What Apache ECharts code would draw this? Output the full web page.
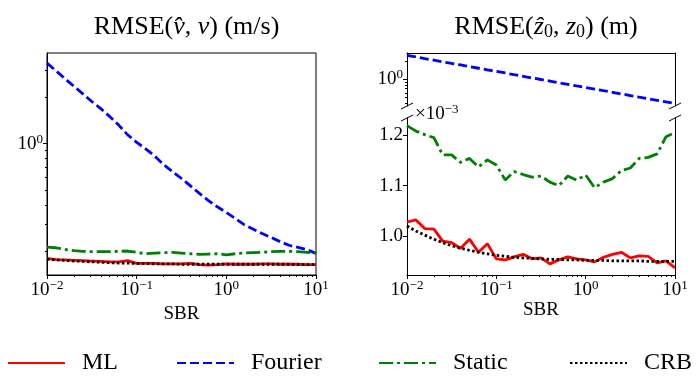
<!DOCTYPE html>
<html>
<head>
<meta charset="utf-8">
<script src="https://cdn.jsdelivr.net/npm/echarts@6/dist/echarts.min.js"></script>
<style>
html, body { margin: 0; padding: 0; background: #fff; }
#main { width: 696px; height: 377px; }
</style>
</head>
<body>
<div id="main"></div>
<script>
// SBR grid, 10 points per decade
var sbr = [0.01, 0.0126, 0.0158, 0.02, 0.0251, 0.0316, 0.0398, 0.0501, 0.0631, 0.0794,
           0.1, 0.126, 0.158, 0.2, 0.251, 0.316, 0.398, 0.501, 0.631, 0.794,
           1, 1.26, 1.58, 2, 2.51, 3.16, 3.98, 5.01, 6.31, 7.94, 10];

// RMSE(v) (m/s)
var vMl      = [0.179, 0.176, 0.175, 0.174, 0.173, 0.172, 0.171, 0.170, 0.170, 0.173,
                0.166, 0.166, 0.166, 0.165, 0.165, 0.165, 0.166, 0.163, 0.162, 0.163,
                0.165, 0.164, 0.164, 0.164, 0.165, 0.165, 0.164, 0.164, 0.164, 0.163, 0.163];
var vFourier = [3.34, 2.98, 2.65, 2.36, 2.11, 1.88, 1.69, 1.50, 1.32, 1.14,
                1.02, 0.925, 0.834, 0.730, 0.656, 0.593, 0.531, 0.474, 0.426, 0.388,
                0.356, 0.325, 0.297, 0.277, 0.260, 0.245, 0.230, 0.218, 0.211, 0.204, 0.193];
var vStatic  = [0.212, 0.210, 0.205, 0.201, 0.199, 0.198, 0.198, 0.198, 0.199, 0.200,
                0.196, 0.192, 0.194, 0.195, 0.196, 0.194, 0.192, 0.190, 0.191, 0.192,
                0.189, 0.192, 0.194, 0.195, 0.196, 0.198, 0.199, 0.199, 0.198, 0.196, 0.194];
var vCrb     = [0.177, 0.175, 0.174, 0.172, 0.171, 0.170, 0.169, 0.168, 0.167, 0.167,
                0.166, 0.166, 0.165, 0.165, 0.165, 0.164, 0.164, 0.164, 0.164, 0.164,
                0.164, 0.164, 0.164, 0.164, 0.164, 0.164, 0.164, 0.164, 0.163, 0.163, 0.163];

// RMSE(z0) (m); Fourier in the upper (log) part, the rest in units of 1e-3
var zFourier = [2.47, 2.33, 2.19, 2.06, 1.94, 1.82, 1.72, 1.61, 1.52, 1.43,
                1.35, 1.27, 1.19, 1.12, 1.05, 0.992, 0.933, 0.878, 0.827, 0.778,
                0.732, 0.689, 0.648, 0.610, 0.574, 0.540, 0.508, 0.478, 0.450, 0.423, 0.398];
var zMl      = [1.028, 1.032, 1.015, 1.014, 0.990, 0.987, 0.976, 0.994, 0.968, 0.985,
                0.955, 0.953, 0.959, 0.964, 0.955, 0.957, 0.945, 0.953, 0.959, 0.955,
                0.953, 0.949, 0.958, 0.964, 0.968, 0.957, 0.961, 0.960, 0.947, 0.951, 0.937];
var zStatic  = [1.219, 1.208, 1.201, 1.195, 1.161, 1.161, 1.146, 1.154, 1.137, 1.151,
                1.141, 1.111, 1.128, 1.122, 1.117, 1.119, 1.107, 1.100, 1.119, 1.111,
                1.121, 1.096, 1.107, 1.114, 1.130, 1.135, 1.154, 1.156, 1.163, 1.197, 1.205];
var zCrb     = [1.020, 1.010, 1.002, 0.994, 0.987, 0.981, 0.976, 0.972, 0.968, 0.965,
                0.962, 0.960, 0.958, 0.957, 0.956, 0.955, 0.954, 0.954, 0.953, 0.953,
                0.952, 0.952, 0.952, 0.951, 0.951, 0.951, 0.951, 0.950, 0.950, 0.950, 0.950];

// tick values
var xMajor = [0.01, 0.1, 1, 10];
var xMinor = [];
[0.01, 0.1, 1].forEach(function (d) {
    for (var m = 2; m <= 9; m++) xMinor.push(+(d * m).toPrecision(3));
});
var vMajor = [1];
var vMinor = [0.2, 0.3, 0.4, 0.5, 0.6, 0.7, 0.8, 0.9, 2, 3];
var zTopMajor = [1];
var zTopMinor = [0.4, 0.5, 0.6, 0.7, 0.8, 0.9, 2];
var zLowMajor = [1.0, 1.1, 1.2];

var names = ['ML', 'Fourier', 'Static', 'CRB'];

var FONT = 'Liberation Serif';
var G0 = { left: 47, top: 53, width: 269, height: 222 };
var G1 = { left: 407, top: 53, width: 268, height: 53 };
var G2 = { left: 407, top: 118, width: 268, height: 157 };

var pair = function (ys) { return sbr.map(function (x, i) { return [x, ys[i]]; }); };

var supRich = {
    b: { fontFamily: FONT, fontSize: 19, color: '#000' },
    s: { fontFamily: FONT, fontSize: 13, color: '#000', padding: [0, 0, 9, 0] }
};
function pow10Label(v) {
    var e = Math.round(Math.log10(v));
    return '{b|10}{s|' + (e < 0 ? '\u2212' + (-e) : e) + '}';
}

// main axis with ticks + labels
function mainAxis(type, grid, min, max, pos, ticks, fmt) {
    return {
        type: type, gridIndex: grid, min: min, max: max, position: pos,
        axisLine: { show: true, lineStyle: { color: '#000', width: 1 } },
        axisTick: { show: true, inside: false, length: 4, customValues: ticks, lineStyle: { color: '#000', width: 1 } },
        axisLabel: { show: true, customValues: ticks, formatter: fmt, rich: supRich, margin: 4,
                     fontFamily: FONT, fontSize: 19, color: '#000' },
        splitLine: { show: false },
        minorTick: { show: false }
    };
}
// twin axis carrying only the minor ticks
function minorAxis(type, grid, min, max, pos, ticks) {
    return {
        type: type, gridIndex: grid, min: min, max: max, position: pos,
        axisLine: { show: false },
        axisTick: { show: true, inside: false, length: 2, customValues: ticks, lineStyle: { color: '#000', width: 1 } },
        axisLabel: { show: false },
        splitLine: { show: false }
    };
}
// bare spine
function spine(type, grid, min, max, pos) {
    return {
        type: type, gridIndex: grid, min: min, max: max, position: pos,
        axisLine: { show: true, lineStyle: { color: '#000', width: 1 } },
        axisTick: { show: false }, axisLabel: { show: false }, splitLine: { show: false }
    };
}

var xLeft = mainAxis('log', 0, 0.01, 10, 'bottom', xMajor, pow10Label);
xLeft.name = 'SBR';
xLeft.nameLocation = 'middle';
xLeft.nameGap = 24;
xLeft.nameTextStyle = { fontFamily: FONT, fontSize: 19, color: '#000' };
var xRight = mainAxis('log', 2, 0.01, 10, 'bottom', xMajor, pow10Label);
xRight.name = 'SBR';
xRight.nameLocation = 'middle';
xRight.nameGap = 24;
xRight.nameTextStyle = { fontFamily: FONT, fontSize: 19, color: '#000' };

var yLow = mainAxis('value', 2, 0.923, 1.234, 'left', zLowMajor, function (v) { return v.toFixed(1); });
yLow.name = '{m|\u00d710}{s|\u22123}';
yLow.nameLocation = 'end';
yLow.nameGap = 4;
yLow.nameTextStyle = {
    align: 'left', verticalAlign: 'middle', padding: [0, 0, 0, 8],
    rich: {
        m: { fontFamily: FONT, fontSize: 19, color: '#000' },
        s: { fontFamily: FONT, fontSize: 13, color: '#000', padding: [0, 0, 9, 0] }
    }
};

var lineStyles = [
    { color: '#ff0000', width: 2.8, type: 'solid' },
    { color: '#0000ff', width: 2.8, type: [9, 4] },
    { color: '#008000', width: 2.8, type: [14, 4, 3, 4] },
    { color: '#000000', width: 2.8, type: [2.5, 2.5] }
];
function mkSeries(name, data, xi, yi) {
    var ls = lineStyles[names.indexOf(name)];
    return {
        name: name, type: 'line', xAxisIndex: xi, yAxisIndex: yi,
        data: pair(data), showSymbol: false, symbol: 'none',
        lineStyle: ls, itemStyle: { color: ls.color },
        animation: false, silent: true, clip: true
    };
}

var legendLefts = [7, 176, 378, 569];

var titleRich = {
    n: { fontFamily: FONT, fontSize: 26, fontWeight: 'normal', color: '#000' },
    i: { fontFamily: FONT, fontSize: 26, fontWeight: 'normal', fontStyle: 'italic', color: '#000' },
    d: { fontFamily: FONT, fontSize: 18, fontWeight: 'normal', color: '#000', padding: [9, 0, 0, 0] }
};

function brk(x, y) {
    return { type: 'line', shape: { x1: x - 6, y1: y + 3, x2: x + 6, y2: y - 3 },
             style: { stroke: '#000', lineWidth: 1 }, silent: true };
}
var g1b = G1.top + G1.height, g2t = G2.top, gl = G1.left, gr = G1.left + G1.width;

var option = {
    animation: false,
    backgroundColor: '#fff',
    title: [
        { text: '{n|RMSE(}{i|v\u0302}{n|, }{i|v}{n|) (m/s)}', left: G0.left + G0.width / 2, top: 9,
          textAlign: 'center', textStyle: { fontWeight: 'normal', rich: titleRich } },
        { text: '{n|RMSE(}{i|\u1e91}{d|0}{n|, }{i|z}{d|0}{n|) (m)}', left: G1.left + G1.width / 2, top: 9,
          textAlign: 'center', textStyle: { fontWeight: 'normal', rich: titleRich } }
    ],
    grid: [
        { left: G0.left, top: G0.top, width: G0.width, height: G0.height, show: true,
          borderColor: '#000', borderWidth: 1, containLabel: false },
        { left: G1.left, top: G1.top, width: G1.width, height: G1.height, containLabel: false },
        { left: G2.left, top: G2.top, width: G2.width, height: G2.height, containLabel: false }
    ],
    xAxis: [
        xLeft,
        minorAxis('log', 0, 0.01, 10, 'bottom', xMinor),
        spine('log', 1, 0.01, 10, 'top'),
        xRight,
        minorAxis('log', 2, 0.01, 10, 'bottom', xMinor)
    ],
    yAxis: [
        mainAxis('log', 0, 0.1396, 3.89, 'left', vMajor, pow10Label),
        minorAxis('log', 0, 0.1396, 3.89, 'left', vMinor),
        mainAxis('log', 1, 0.363, 2.71, 'left', zTopMajor, pow10Label),
        minorAxis('log', 1, 0.363, 2.71, 'left', zTopMinor),
        spine('log', 1, 0.363, 2.71, 'right'),
        yLow,
        spine('value', 2, 0.923, 1.234, 'right')
    ],
    legend: names.map(function (n, i) {
        return {
            data: [n], left: legendLefts[i], top: 349, itemWidth: 57, itemHeight: 14,
            padding: 0, selectedMode: false,
            itemStyle: { opacity: 0, borderWidth: 0 },
            textStyle: { fontFamily: FONT, fontSize: 24, color: '#000', lineHeight: 28, padding: [0, 0, 0, 12] }
        };
    }),
    graphic: [brk(gl, g1b), brk(gr, g1b), brk(gl, g2t), brk(gr, g2t)],
    series: [
        mkSeries('ML', vMl, 0, 0),
        mkSeries('Fourier', vFourier, 0, 0),
        mkSeries('Static', vStatic, 0, 0),
        mkSeries('CRB', vCrb, 0, 0),
        mkSeries('ML', zMl, 3, 5),
        mkSeries('Fourier', zFourier, 2, 2),
        mkSeries('Static', zStatic, 3, 5),
        mkSeries('CRB', zCrb, 3, 5)
    ]
};

var chart = echarts.init(document.getElementById('main'));
chart.setOption(option);
</script>
</body>
</html>
